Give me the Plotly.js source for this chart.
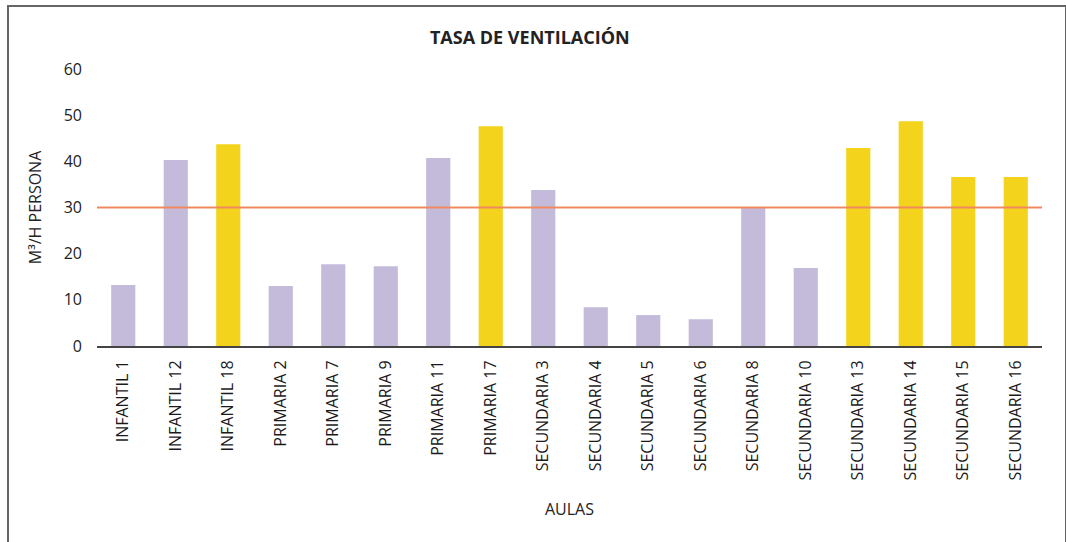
<!DOCTYPE html>
<html>
<head>
<meta charset="utf-8">
<script src="https://cdn.plot.ly/plotly-3.0.1.min.js"></script>
<style>
  body { margin: 0; background: #fff; }
  #chart { width: 1066px; height: 542px; }
  #frame { position: absolute; left: 7px; top: 5px; width: 1056px; height: 600px;
           border: 2px solid #666; pointer-events: none; }
</style>
</head>
<body>
<div id="chart"></div>
<div id="frame"></div>
<script>
// aulas medidas
const aulas = ['INFANTIL 1', 'INFANTIL 12', 'INFANTIL 18', 'PRIMARIA 2', 'PRIMARIA 7', 'PRIMARIA 9',
  'PRIMARIA 11', 'PRIMARIA 17', 'SECUNDARIA 3', 'SECUNDARIA 4', 'SECUNDARIA 5', 'SECUNDARIA 6',
  'SECUNDARIA 8', 'SECUNDARIA 10', 'SECUNDARIA 13', 'SECUNDARIA 14', 'SECUNDARIA 15', 'SECUNDARIA 16'];

// m3/h por persona
const tasa = [13.2, 40.3, 43.7, 13.0, 17.7, 17.3, 40.7, 47.6, 33.8, 8.4, 6.7, 5.8, 29.9, 16.9, 42.9, 48.7, 36.6, 36.6];

// grupo de color: 0 = lila, 1 = amarillo
const grupo = [0, 0, 1, 0, 0, 0, 0, 1, 0, 0, 0, 0, 0, 0, 1, 1, 1, 1];

const umbral = 30;
const colores = ['#c4bbdb', '#f3d31b'];

const trace = {
  x: aulas,
  y: tasa,
  type: 'bar',
  width: 0.46,
  marker: { color: grupo.map(g => colores[g]) },
  hoverinfo: 'x+y'
};

const layout = {
  width: 1066,
  height: 542,
  margin: { l: 97, r: 24, t: 69, b: 196 },
  paper_bgcolor: '#fff',
  plot_bgcolor: '#fff',
  font: { family: 'Open Sans, sans-serif', color: '#222' },
  showlegend: false,
  title: {
    text: '<b>TASA DE VENTILACIÓN</b>',
    font: { size: 18, color: '#222' },
    x: 0.497, xanchor: 'center', y: 0.93, yanchor: 'middle'
  },
  xaxis: {
    tickangle: -90,
    tickfont: { size: 16, color: '#1a1a1a' },
    showline: true, linecolor: '#444', linewidth: 2,
    ticks: '', ticklabelstandoff: 6,
    title: { text: 'AULAS', font: { size: 16, color: '#222' }, standoff: 24 }
  },
  yaxis: {
    range: [0, 60],
    dtick: 10,
    showgrid: false,
    zeroline: false,
    tickfont: { size: 16, color: '#222' },
    ticklabelstandoff: 14,
    title: { text: 'M³/H PERSONA', font: { size: 16, color: '#222' }, standoff: 18 }
  },
  shapes: [{
    type: 'line', xref: 'paper', yref: 'y',
    x0: 0, x1: 1, y0: umbral, y1: umbral,
    line: { color: '#f0895f', width: 2 }
  }]
};

Plotly.newPlot('chart', [trace], layout, { displayModeBar: false, staticPlot: true });
</script>
</body>
</html>
